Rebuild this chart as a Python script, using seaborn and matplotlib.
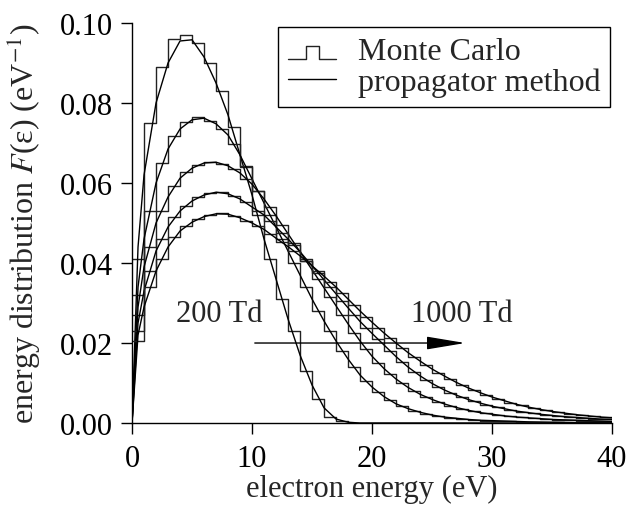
import numpy as np
import matplotlib
matplotlib.use('Agg')
import matplotlib.pyplot as plt
from matplotlib.lines import Line2D
from matplotlib.legend_handler import HandlerBase
import seaborn as sns

sns.set_style('ticks')
plt.rcParams['font.family'] = ['Liberation Serif', 'DejaVu Serif']
plt.rcParams['mathtext.fontset'] = 'stix'

fields = ['200 Td', '400 Td', '600 Td', '800 Td', '1000 Td']

# Monte Carlo histograms, 1 eV bins from 0 to 40 eV
bin_edges = np.arange(0, 41, 1)
mc_200 = [0.041, 0.075, 0.089, 0.096, 0.097, 0.095, 0.090, 0.083, 0.074, 0.064,
          0.052, 0.041, 0.031, 0.023, 0.013, 0.006, 0.0015, 0.0004, 0.0, 0.0] + [0.0] * 20
mc_400 = [0.032, 0.053, 0.065, 0.0718, 0.0753, 0.0764, 0.0755, 0.0735, 0.0698, 0.0643,
          0.058, 0.052, 0.046, 0.040, 0.034, 0.028, 0.023, 0.018, 0.014, 0.0105,
          0.0078, 0.0057, 0.0042, 0.0031, 0.0023, 0.0017, 0.0013, 0.001, 0.0008, 0.0006,
          0.0005, 0.0004, 0.0003, 0.0003, 0.0002, 0.0002, 0.0001, 0.0001, 0.0001, 0.0001]
mc_600 = [0.027, 0.044, 0.053, 0.0593, 0.0627, 0.0645, 0.0652, 0.0648, 0.0635, 0.061,
          0.058, 0.054, 0.0495, 0.045, 0.0405, 0.036, 0.0315, 0.027, 0.0225, 0.0185,
          0.015, 0.0122, 0.0099, 0.008, 0.0065, 0.0053, 0.0043, 0.0035, 0.0029, 0.0024,
          0.002, 0.0017, 0.0014, 0.0012, 0.001, 0.0008, 0.0007, 0.0006, 0.0005, 0.0004]
mc_800 = [0.023, 0.038, 0.046, 0.0514, 0.0543, 0.0565, 0.0575, 0.0577, 0.0568, 0.0552,
          0.053, 0.0505, 0.0475, 0.0445, 0.041, 0.0375, 0.034, 0.0305, 0.027, 0.0238,
          0.021, 0.018, 0.0152, 0.0128, 0.0108, 0.009, 0.0076, 0.0064, 0.0054, 0.0046,
          0.0039, 0.0033, 0.0028, 0.0024, 0.002, 0.0017, 0.0015, 0.0013, 0.0011, 0.0009]
mc_1000 = [0.0205, 0.034, 0.041, 0.0464, 0.0493, 0.051, 0.0521, 0.0524, 0.0518, 0.0506,
           0.0493, 0.0473, 0.0452, 0.043, 0.0405, 0.038, 0.0353, 0.0325, 0.0295, 0.0266,
           0.0238, 0.0212, 0.0188, 0.0165, 0.0145, 0.0126, 0.011, 0.0095, 0.0082, 0.007,
           0.006, 0.0051, 0.0044, 0.0037, 0.0032, 0.0027, 0.0023, 0.002, 0.0017, 0.0014]

# propagator method, energies 0, 0.5, 1, 2, ..., 40 eV
prop_energy = [0.0, 0.5] + list(range(1, 41))
prop_200 = [0.0, 0.044, 0.062, 0.080, 0.090, 0.0955, 0.0958, 0.0915, 0.085, 0.077, 0.067,
            0.057, 0.046, 0.036, 0.026, 0.017, 0.0095, 0.0038, 0.0010, 0.0002, 0.0] + [0.0] * 21
prop_400 = [0.0, 0.034, 0.046, 0.060, 0.0685, 0.0735, 0.0758, 0.0762, 0.0748, 0.072, 0.067,
            0.061, 0.055, 0.049, 0.043, 0.037, 0.031, 0.0255, 0.0205, 0.016, 0.012,
            0.009, 0.0066, 0.0048, 0.0036, 0.0027, 0.002, 0.0015, 0.0012, 0.0009, 0.0007,
            0.0006, 0.0005, 0.0004, 0.0003, 0.00025, 0.0002, 0.00015, 0.0001, 0.0001, 0.0001, 0.0001]
prop_600 = [0.0, 0.029, 0.039, 0.050, 0.0565, 0.0612, 0.0637, 0.065, 0.0652, 0.0643, 0.0625,
            0.0597, 0.056, 0.0518, 0.0473, 0.0428, 0.0383, 0.0338, 0.0293, 0.0248, 0.0205,
            0.0167, 0.0136, 0.011, 0.0089, 0.0072, 0.0059, 0.0048, 0.0039, 0.0032, 0.0026,
            0.0022, 0.0018, 0.0015, 0.0013, 0.0011, 0.0009, 0.0008, 0.0007, 0.0006, 0.0005, 0.0004]
prop_800 = [0.0, 0.025, 0.033, 0.043, 0.049, 0.053, 0.0555, 0.057, 0.0577, 0.0573, 0.056,
            0.054, 0.052, 0.049, 0.046, 0.0428, 0.0393, 0.0358, 0.0323, 0.0288, 0.0254,
            0.0224, 0.0195, 0.0166, 0.014, 0.0118, 0.0099, 0.0083, 0.007, 0.0059, 0.005,
            0.0042, 0.0036, 0.003, 0.0026, 0.0022, 0.0019, 0.0016, 0.0014, 0.0012, 0.001, 0.0009]
prop_1000 = [0.0, 0.022, 0.029, 0.038, 0.044, 0.048, 0.0502, 0.0516, 0.0523, 0.0522, 0.0513,
             0.05, 0.0484, 0.0462, 0.0441, 0.0418, 0.0393, 0.0367, 0.034, 0.031, 0.028,
             0.0252, 0.0225, 0.02, 0.0176, 0.0155, 0.0135, 0.0118, 0.0102, 0.0088, 0.0076,
             0.0065, 0.0056, 0.0047, 0.004, 0.0034, 0.0029, 0.0025, 0.0021, 0.0018, 0.0015, 0.0013]

mc_all = [mc_200, mc_400, mc_600, mc_800, mc_1000]
prop_all = [prop_200, prop_400, prop_600, prop_800, prop_1000]
bin_centers = bin_edges[:-1] + 0.5


class StepHandler(HandlerBase):
    # little "_|~|_" symbol for the histogram entry
    def create_artists(self, legend, orig_handle, xdescent, ydescent,
                       width, height, fontsize, trans):
        xs = np.array([0, 0.38, 0.38, 0.65, 0.65, 1.0]) * width - xdescent
        ys = np.array([0.0, 0.0, 0.6, 0.6, 0.0, 0.0]) * height - ydescent
        ln = Line2D(xs, ys, color='#222222', lw=1.0)
        ln.set_transform(trans)
        return [ln]


fig = plt.figure(figsize=(6.29, 5.06), dpi=100)
ax = fig.add_axes([0.2099, 0.162, 0.7631, 0.7906])

for mc, prop in zip(mc_all, prop_all):
    sns.histplot(x=list(bin_centers), weights=mc, binwidth=1, binrange=(0, 40),
                 element='step', fill=False, color='#222222', linewidth=1.0, ax=ax)
    sns.lineplot(x=prop_energy, y=prop, color='black', linewidth=1.0, ax=ax)

ax.set_xlim(0, 40)
ax.set_ylim(0, 0.10)
ax.set_xticks([0, 10, 20, 30, 40])
ax.set_yticks([0.0, 0.02, 0.04, 0.06, 0.08, 0.10])
ax.set_yticklabels(['0.00', '0.02', '0.04', '0.06', '0.08', '0.10'])
ax.tick_params(direction='out', length=8, width=1.0, labelsize=22, colors='black')
ax.tick_params(axis='x', pad=7)
ax.tick_params(axis='y', pad=6)
sns.despine(ax=ax)
for s in ['left', 'bottom']:
    ax.spines[s].set_linewidth(1.0)
    ax.spines[s].set_color('black')

ax.set_xlabel('electron energy (eV)', fontsize=22, labelpad=0.5)
ax.set_ylabel('energy distribution $F$(ε) (eV$^{-1}$)', fontsize=23, labelpad=12)

ax.text(7.3, 0.0275, fields[0], fontsize=22, ha='center', va='center')
ax.text(27.5, 0.0275, fields[-1], fontsize=22, ha='center', va='center')
ax.annotate('', xy=(28, 0.02), xytext=(10, 0.02),
            arrowprops=dict(arrowstyle='-|>,head_length=2.4,head_width=0.4',
                            mutation_scale=10, lw=1.0, color='black'))

h_mc = Line2D([], [], color='#222222')
h_prop = Line2D([], [], color='black', lw=1.0)
leg = ax.legend([h_mc, h_prop], ['Monte Carlo', 'propagator method'],
                handler_map={h_mc: StepHandler()},
                loc='upper right', bbox_to_anchor=(0.996, 0.99), borderaxespad=0,
                fontsize=23, frameon=True, fancybox=False, edgecolor='black',
                framealpha=1, handlelength=1.5, handletextpad=0.7,
                labelspacing=0.05, borderpad=0.3)
leg.get_frame().set_linewidth(1.0)

fig.savefig('out.png', dpi=100)
